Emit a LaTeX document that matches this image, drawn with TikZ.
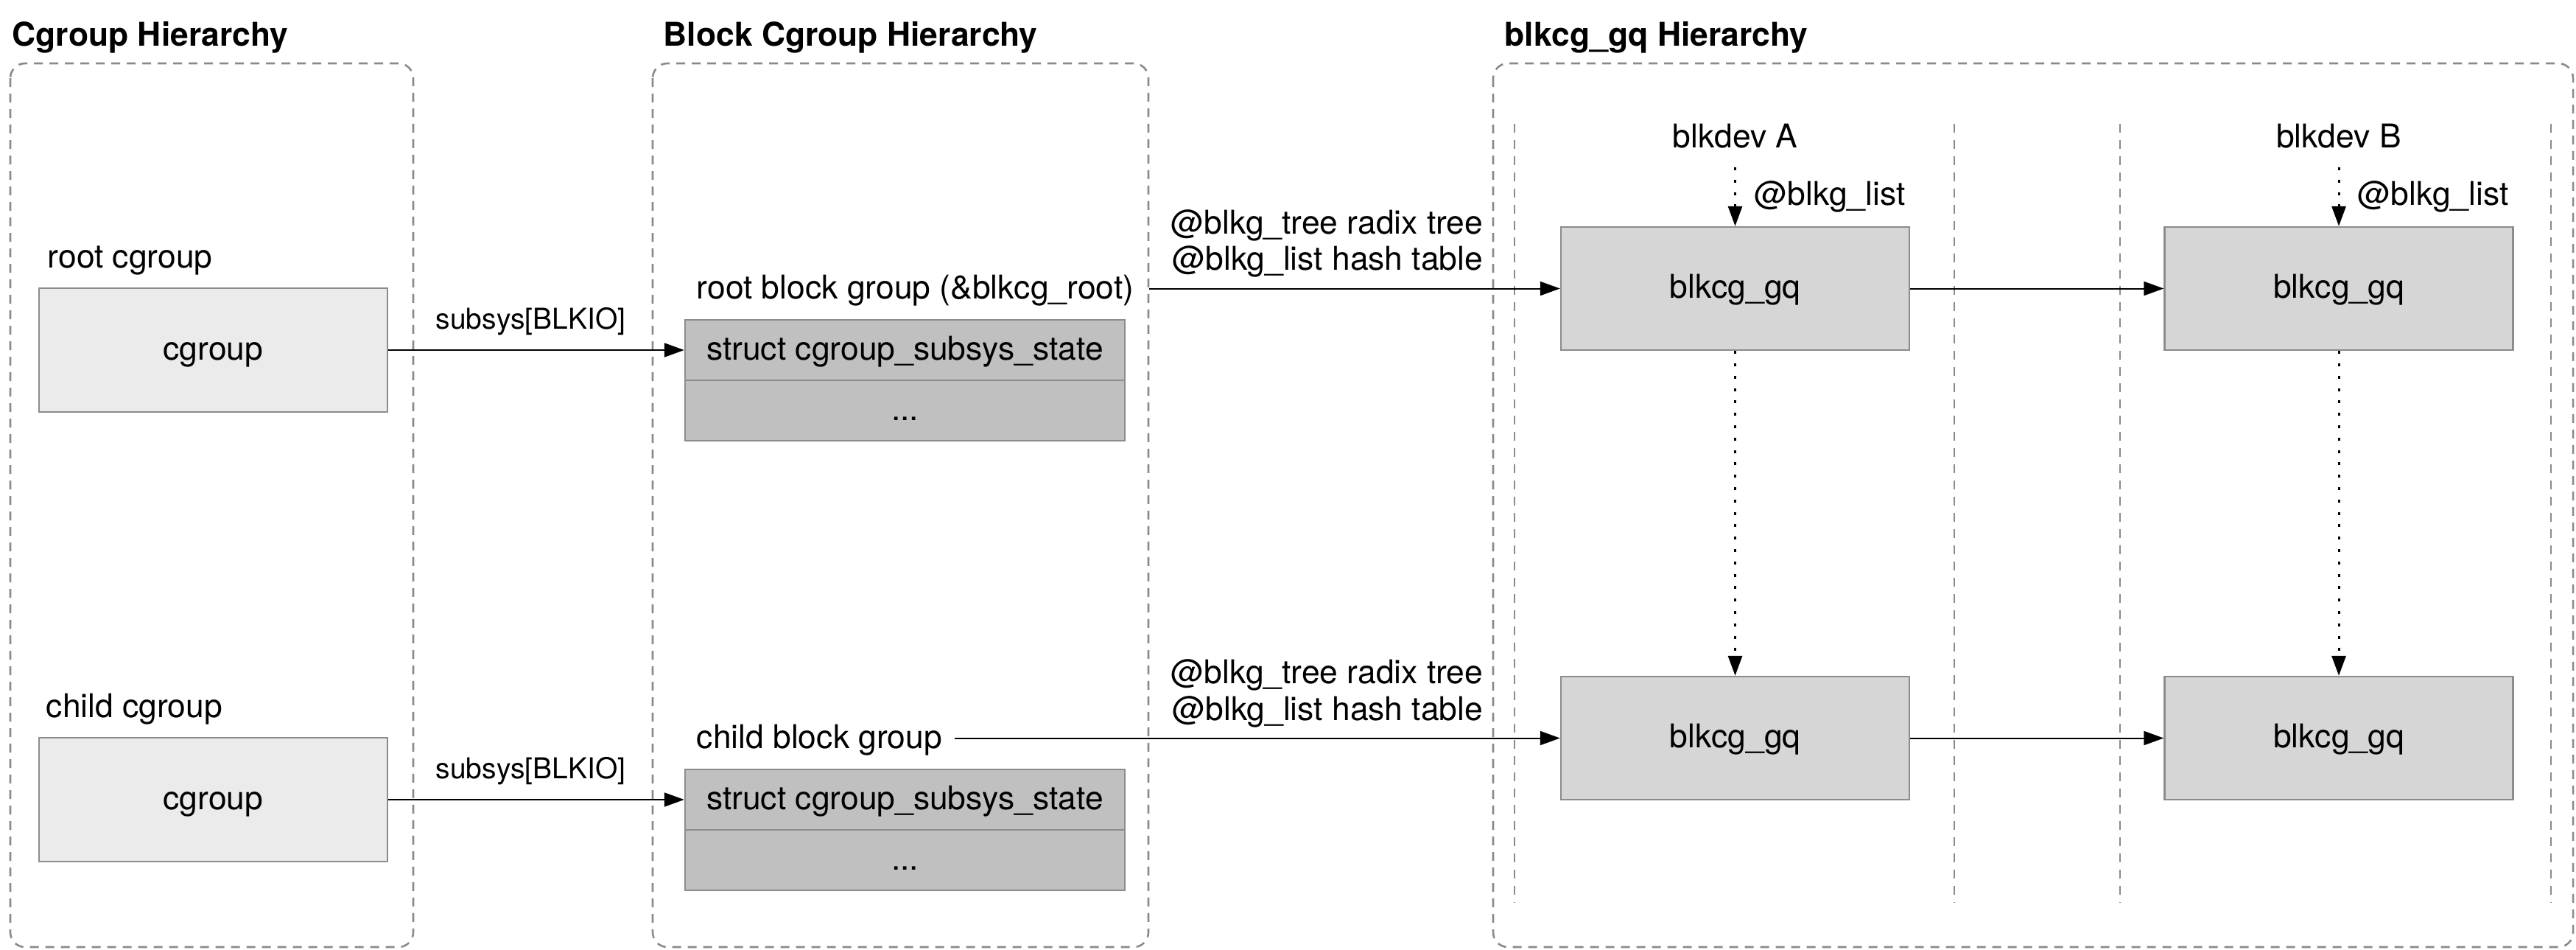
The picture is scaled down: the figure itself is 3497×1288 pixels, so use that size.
\documentclass[tikz,border=0pt]{standalone}
\usepackage{fontspec}
\setmainfont{TeX Gyre Heros}
\usetikzlibrary{arrows.meta}
\definecolor{dashgray}{HTML}{8A8A8A}
\definecolor{bordergray}{HTML}{8C8C8C}
\definecolor{cgfill}{HTML}{EBEBEB}
\definecolor{structfill}{HTML}{C0C0C0}
\definecolor{gqfill}{HTML}{D6D6D6}
\begin{document}
\begin{tikzpicture}[x=0.25pt,y=-0.25pt,
  font=\fontsize{11.1}{13.3}\selectfont,
  title/.style={font=\fontsize{11.1}{13.3}\selectfont\bfseries, anchor=base west, inner sep=0pt},
  lbl/.style={anchor=base west, inner sep=0pt},
  rlbl/.style={anchor=base east, inner sep=0pt},
  clbl/.style={anchor=base, inner sep=0pt},
  small/.style={font=\fontsize{9.75}{11.7}\selectfont},
  region/.style={draw=dashgray, line width=0.65pt, dash pattern=on 3pt off 2.25pt, rounded corners=5pt},
  sepline/.style={draw=dashgray, line width=0.65pt, dash pattern=on 3pt off 2.5pt},
  boxbase/.style={draw=bordergray, line width=0.6pt, text height=8.5pt, text depth=2pt, inner sep=0pt},
  cgbox/.style={boxbase, fill=cgfill, minimum width=118.25pt, minimum height=42pt},
  cell/.style={boxbase, fill=structfill, minimum width=149.25pt, minimum height=20.5pt},
  gqbox/.style={boxbase, fill=gqfill, minimum width=118.25pt, minimum height=41.75pt},
  arr/.style={-{Triangle[length=6.75pt,width=4.75pt]}, line width=0.5pt, black},
  dotarr/.style={arr, line width=0.75pt, dash pattern=on 1pt off 3.2pt}
]
\useasboundingbox (0,0) rectangle (3497,1288);

% titles
\node[title] (t1) at (16,62) {Cgroup Hierarchy};
\node[title] (t2) at (900,62) {Block Cgroup Hierarchy};
\node[title] (t3) at (2042,62) {blkcg\_gq Hierarchy};

% regions
\draw[region] (14,86) rectangle (561,1285);
\draw[region] (886,86) rectangle (1559,1285);
\draw[region] (2027,86) rectangle (3493,1285);

% separators in blkcg_gq region
\draw[sepline] (2056,168) -- (2056,1225);
\draw[sepline] (2653,168) -- (2653,1225);
\draw[sepline] (2878,168) -- (2878,1225);
\draw[sepline] (3463,168) -- (3463,1225);

% cgroup hierarchy
\node[lbl] (rootcg) at (64,363) {root cgroup};
\node[cgbox] (cg1) at (289.5,475) {cgroup};
\node[lbl] (childcg) at (62,973) {child cgroup};
\node[cgbox] (cg2) at (289.5,1085) {cgroup};

% block cgroup hierarchy
\node[lbl] (rootbg) at (945,405) {root block group (\&blkcg\_root)};
\node[cell] (css1) at (1228.5,475) {struct cgroup\_subsys\_state};
\node[cell] (more1) at (1228.5,557) {...};
\node[lbl] (childbg) at (945,1015) {child block group};
\node[cell] (css2) at (1228.5,1085) {struct cgroup\_subsys\_state};
\node[cell] (more2) at (1228.5,1167) {...};

% subsys arrows
\node[lbl, small] (sub1) at (591,446) {subsys[BLKIO]};
\node[lbl, small] (sub2) at (591,1056) {subsys[BLKIO]};
\draw[arr] (cg1.east) -- (css1.west);
\draw[arr] (cg2.east) -- (css2.west);

% blkcg_gq hierarchy
\node[clbl] (devA) at (2355.5,200) {blkdev A};
\node[clbl] (devB) at (3175,200) {blkdev B};
\node[gqbox] (gqA1) at (2355.5,391.5) {blkcg\_gq};
\node[gqbox] (gqB1) at (3175,391.5) {blkcg\_gq};
\node[gqbox] (gqA2) at (2355.5,1001.5) {blkcg\_gq};
\node[gqbox] (gqB2) at (3175,1001.5) {blkcg\_gq};
\node[lbl] (listA) at (2381,278) {@blkg\_list};
\node[lbl] (listB) at (3200,278) {@blkg\_list};

\coordinate (topA) at (2355.5,227);
\coordinate (topB) at (3175,227);
\draw[dotarr] (topA) -- (gqA1.north);
\draw[dotarr] (topB) -- (gqB1.north);
\draw[dotarr] (gqA1.south) -- (gqA2.north);
\draw[dotarr] (gqB1.south) -- (gqB2.north);

% tree / list labels
\node[rlbl] (tree1) at (2014,317) {@blkg\_tree radix tree};
\node[rlbl] (hash1) at (2014,366) {@blkg\_list hash table};
\node[rlbl] (tree2) at (2014,927) {@blkg\_tree radix tree};
\node[rlbl] (hash2) at (2014,977) {@blkg\_list hash table};

% horizontal arrows
\draw[arr, shorten <=5pt] (rootbg.east |- gqA1.west) -- (gqA1.west);
\draw[arr, shorten <=4pt] (childbg.east |- gqA2.west) -- (gqA2.west);
\draw[arr] (gqA1.east) -- (gqB1.west);
\draw[arr] (gqA2.east) -- (gqB2.west);
\end{tikzpicture}
\end{document}
